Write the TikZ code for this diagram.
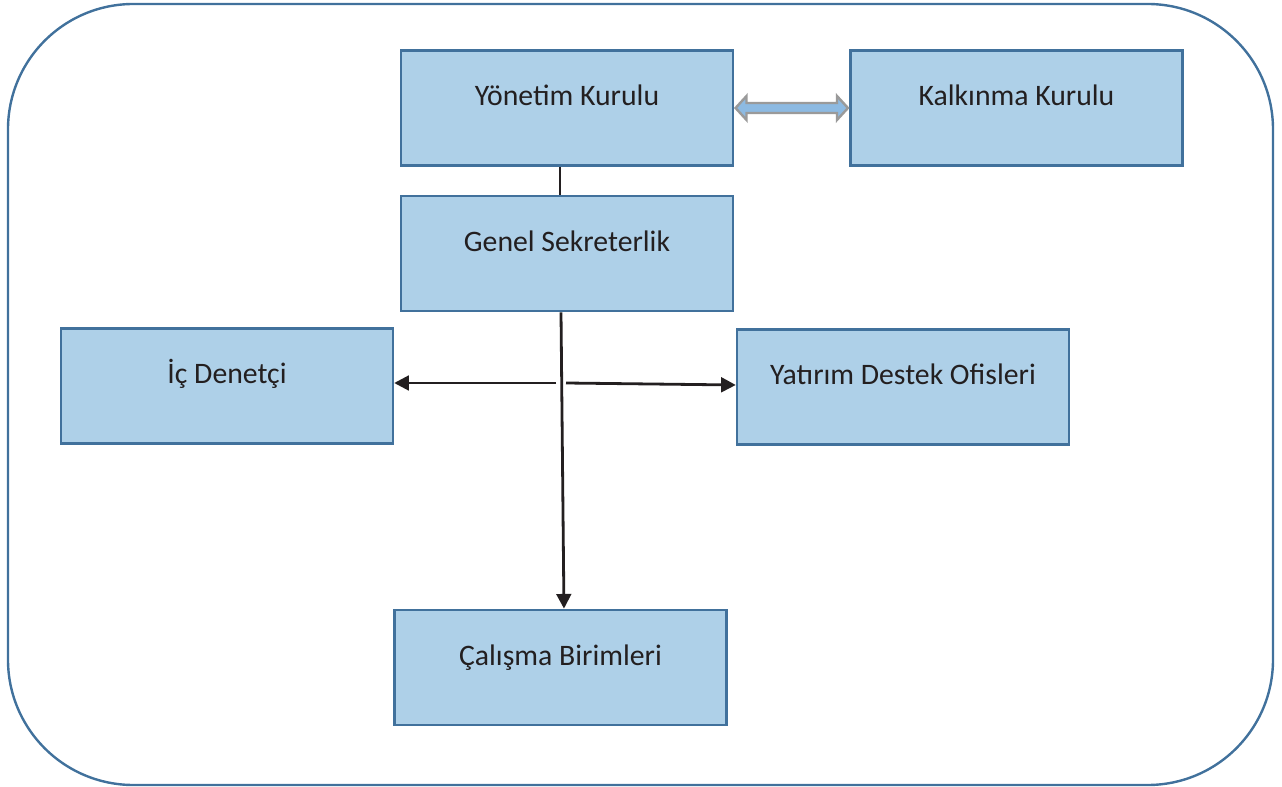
\documentclass[tikz,border=0pt]{standalone}
\usepackage{fontspec}
\setmainfont{Carlito}
\usetikzlibrary{arrows.meta,calc}

\definecolor{frameblue}{HTML}{41719C}
\definecolor{boxfill}{HTML}{AED0E8}
\definecolor{linkdark}{HTML}{231F20}
\definecolor{blockfill}{HTML}{8DBAE2}
\definecolor{blockedge}{HTML}{9A9A9A}

\tikzset{
  unit/.style={draw=frameblue, fill=boxfill, line width=1.8pt,
    minimum width=249pt, minimum height=86.5pt,
    font=\fontsize{22.3}{26}\selectfont, text=linkdark,
    text height=12pt, text depth=15pt},
  link/.style={draw=linkdark, line width=2.1pt},
  arrowlink/.style={link, -{Triangle[length=11pt,width=11pt]}}
}

\begin{document}
\begin{tikzpicture}[x=0.75pt,y=-0.75pt]
  \useasboundingbox (0,0) rectangle (1282,787);

  % outer frame
  \draw[frameblue, line width=1.8pt, rounded corners=94pt]
    (8,4) rectangle (1273,785);

  % organisation units
  \node[unit] (yk)  at (567,108)    {Yönetim Kurulu};
  \node[unit] (kk)  at (1016.5,108) {Kalkınma Kurulu};
  \node[unit] (gs)  at (567,253.5)  {Genel Sekreterlik};
  \node[unit] (id)  at (227,386)    {İç Denetçi};
  \node[unit] (ydo) at (903,387)    {Yatırım Destek Ofisleri};
  \node[unit] (cb)  at (560.5,667.5){Çalışma Birimleri};

  % board to secretariat
  \draw[link] ([xshift=-5.25pt]yk.south) -- ([xshift=-5.25pt]gs.north);

  % secretariat down to working units
  \draw[arrowlink] ([xshift=-4.5pt]gs.south) -- ([xshift=2.6pt]cb.north);

  % side branches
  \coordinate (hl) at (556,383);
  \coordinate (hr) at (566,383);
  \draw[arrowlink] (hl) -- ([yshift=2.25pt]id.east);
  \draw[arrowlink] (hr) -- ([yshift=1.5pt]ydo.west);

  % two-way block arrow between the boards
  \coordinate (la) at ([xshift=1pt]yk.east);
  \coordinate (ra) at ([xshift=-1pt]kk.west);
  \draw[blockedge, fill=blockfill, line width=1.8pt, line join=miter]
    (la) -- ++(11,-12) -- ++(0,7) -- ($(ra)+(-11,-5)$) -- ++(0,-7)
    -- (ra) -- ++(-11,12) -- ++(0,-7) -- ($(la)+(11,5)$) -- ++(0,7) -- cycle;
\end{tikzpicture}
\end{document}
